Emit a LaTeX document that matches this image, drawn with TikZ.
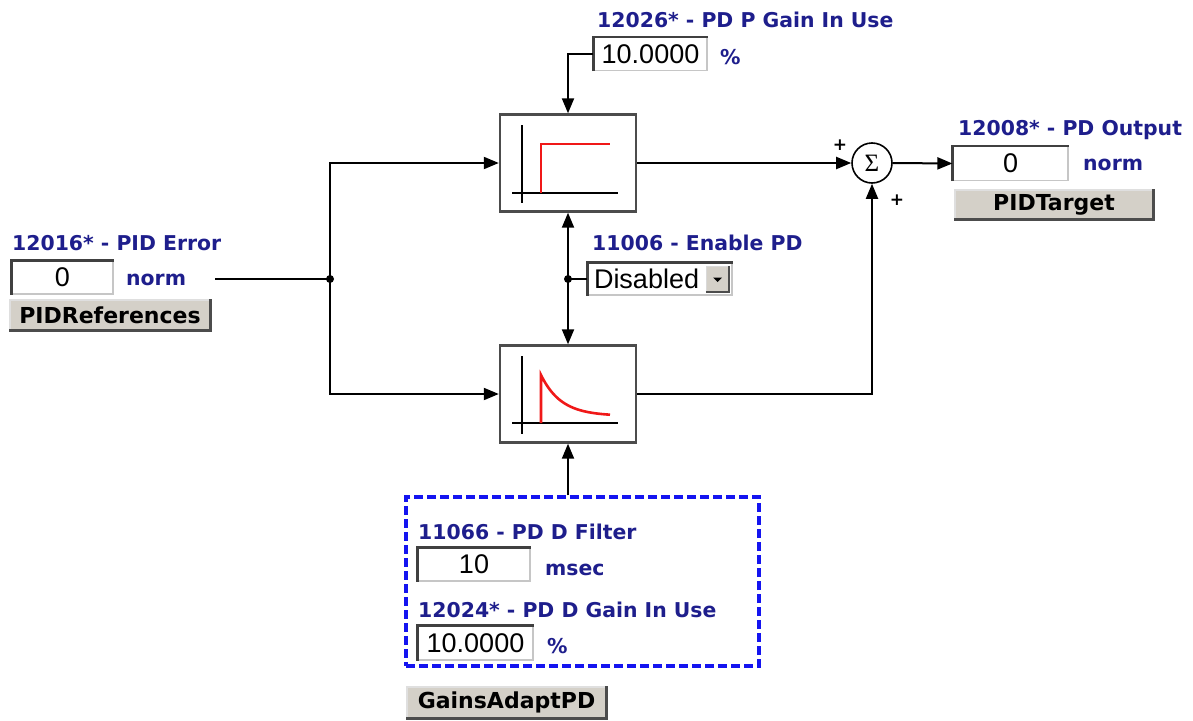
\documentclass[tikz,border=0pt]{standalone}
\usepackage{fontspec}
\usetikzlibrary{arrows.meta,positioning,calc}
\setmainfont{DejaVu Sans}
\newfontfamily\valfont{Liberation Sans}
\newfontfamily\sigfont{Liberation Serif}
\definecolor{lbltext}{HTML}{1E1E8C}
\definecolor{grpframe}{HTML}{1414F0}
\definecolor{btnface}{HTML}{D4D0C8}
\definecolor{curve}{HTML}{F01818}

\begin{document}
\begin{tikzpicture}[
  x=1pt,y=-1pt,
  lbl/.style={anchor=west,inner sep=0pt,text=lbltext,font=\fontsize{20.4}{22}\selectfont\bfseries},
  valbox/.style={draw=gray!45,line width=1.2pt,fill=white,minimum width=#1,minimum height=33pt,inner sep=0pt,font=\valfont\fontsize{27}{29}\selectfont},
  btnbox/.style={draw=gray!25,line width=1.2pt,fill=btnface,minimum width=#1,minimum height=30pt,inner sep=0pt,font=\fontsize{22}{24}\selectfont\bfseries},
  blk/.style={draw=black!70,fill=white,line width=2.4pt,minimum width=136pt,minimum height=97pt},
  sig/.style={-{Triangle[length=15pt,width=12pt]},line width=2pt},
  wire/.style={line width=2pt},
  plus/.style={inner sep=0pt,font=\fontsize{17}{17}\selectfont\bfseries},
]
  \useasboundingbox (0,0) rectangle (1193,720);

  % PID error input
  \node[lbl] (errlbl) at (12,243) {12016* - PID Error};
  \node[valbox=101pt] (errval) at (62.5,277.5) {0};
  \node[lbl] (errunit) at (126,280) {norm};
  \node[btnbox=200pt] (errbtn) at (110,315) {PIDReferences};
  \coordinate (inp) at (215,279);
  \coordinate (split) at (330,279);

  % blocks
  \node[blk] (blkP) at (568,163) {};
  \node[blk] (blkD) at (568,394) {};
  \node[draw,circle,line width=1.6pt,minimum size=40pt,inner sep=0pt,font=\sigfont\fontsize{25}{25}\selectfont] (sum) at (872,163) {Σ};
  \node[plus] (plusA) at (840,145) {+};
  \node[plus] (plusB) at (897,200) {+};

  \begin{scope}[shift={(blkP.center)}]
    \draw[line width=2pt] (-46,-38) -- (-46,40);
    \draw[line width=2pt] (-56,30) -- (50,30);
    \draw[curve,line width=2.6pt] (-27,30) -- (-27,-19) -- (42,-19);
  \end{scope}
  \begin{scope}[shift={(blkD.center)}]
    \draw[line width=2pt] (-46,-38) -- (-46,40);
    \draw[line width=2pt] (-56,29) -- (50,29);
    \draw[curve,line width=2.6pt] (-27,29) -- (-27,-19)
      -- plot[domain=0:69,samples=40] ({-27+\x},{22-41*exp(-\x/20)});
  \end{scope}

  % P gain
  \node[lbl] (plbl) at (597,20) {12026* - PD P Gain In Use};
  \node[valbox=113pt] (pval) at (650.5,54) {10.0000};
  \node[lbl] (punit) at (720,57) {\%};

  % enable
  \node[lbl] (enlbl) at (592,243) {11006 - Enable PD};
  \node[valbox=144pt,minimum height=32pt,text width=132pt,align=left] (encombo) at (660,279) {Disabled};
  \node[draw=gray!30,fill=btnface,minimum width=23pt,minimum height=26pt,inner sep=0pt] (endrop) at (717.5,279) {};
  \fill ($(endrop)+(-4.5,-1.5)$) -- ++(9,0) -- ++(-4.5,4.5) -- cycle;
  \coordinate (enjoin) at (blkP.south |- encombo.west);

  % output
  \node[lbl] (outlbl) at (958,130) {12008* - PD Output};
  \node[valbox=115pt,minimum height=34pt] (outval) at (1010.5,163.5) {0};
  \node[lbl] (outunit) at (1083,165) {norm};
  \node[btnbox=198pt,minimum height=29pt] (outbtn) at (1054,204.5) {PIDTarget};

  % D filter group
  \node[draw=grpframe,line width=3.2pt,dash pattern=on 9pt off 4pt,minimum width=353pt,minimum height=169pt] (dgrp) at (582.5,581.5) {};
  \node[lbl] (flbl) at (418,532) {11066 - PD D Filter};
  \node[valbox=112pt] (fval) at (474,564.5) {10};
  \node[lbl] (funit) at (545,570) {msec};
  \node[lbl] (glbl) at (418,610) {12024* - PD D Gain In Use};
  \node[valbox=115pt,minimum height=34pt] (gval) at (475.5,643) {10.0000};
  \node[lbl] (gunit) at (547,646) {\%};
  \node[btnbox=199pt,minimum height=31pt] (gbtn) at (506.5,702.5) {GainsAdaptPD};

  % sunken and raised edges
  \foreach \n in {errval,pval,encombo,outval,fval,gval}
    \draw[gray!50!black,line width=2.4pt] (\n.south west) |- (\n.north east);
  \foreach \n in {errbtn,outbtn,gbtn,endrop}
    \draw[gray!60!black,line width=2.4pt] (\n.south west) -| (\n.north east);

  % connectors
  \draw[wire] (inp) -- (split);
  \fill (split) circle (4pt);
  \draw[sig] (split) |- (blkP.west);
  \draw[sig] (split) |- (blkD.west);
  \draw[sig] (blkP.east) -- (sum.west);
  \draw[sig] (blkD.east) -| (sum.south);
  \draw[sig] (sum.east) -- (outval.west);
  \draw[sig] (pval.west) -| (blkP.north);
  \draw[sig,{Triangle[length=15pt,width=12pt]}-{Triangle[length=15pt,width=12pt]}] (blkP.south) -- (blkD.north);
  \draw[wire] (enjoin) -- (encombo.west);
  \fill (enjoin) circle (4pt);
  \draw[sig] (blkD.south |- dgrp.north) -- (blkD.south);
\end{tikzpicture}
\end{document}
